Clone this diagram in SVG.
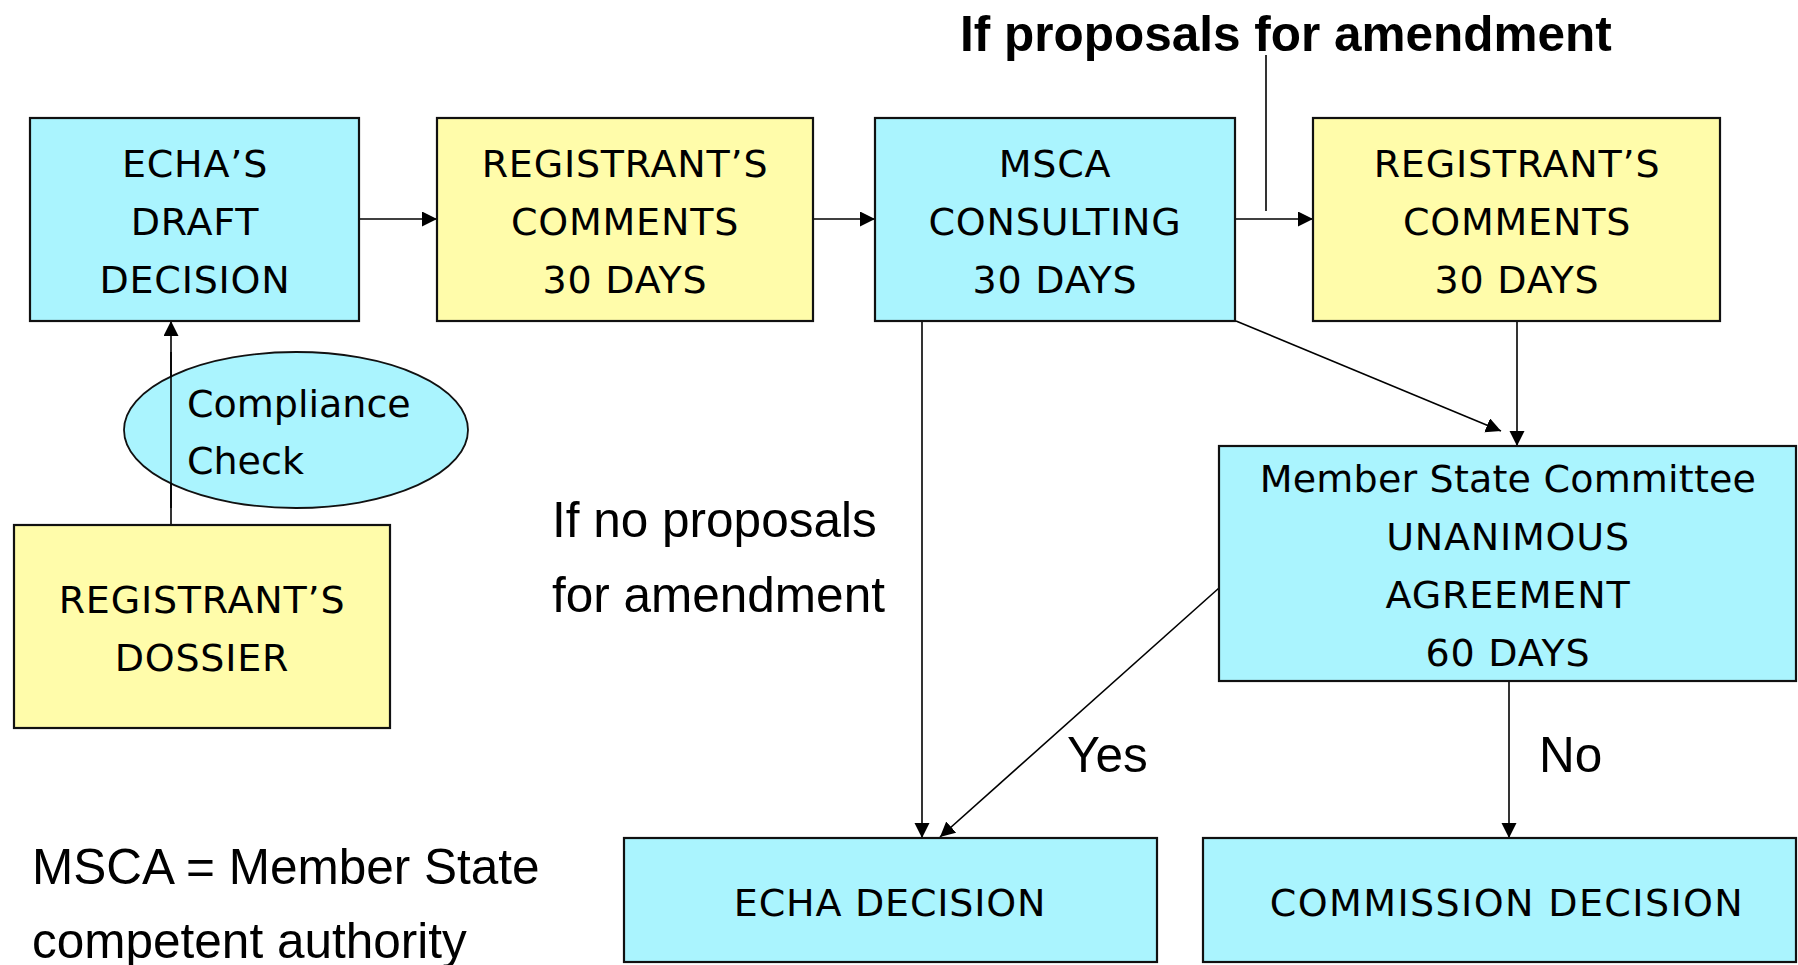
<svg xmlns="http://www.w3.org/2000/svg" width="1798" height="965" viewBox="0 0 1798 965">
<defs>
<marker id="arr" markerUnits="userSpaceOnUse" markerWidth="16" markerHeight="16" refX="15" refY="7.5" orient="auto">
<path d="M0,0 L15,7.5 L0,15 z" fill="#000"/>
</marker>
<style>
.cy{fill:#AAF4FE;stroke:#111;stroke-width:2.2}
.ye{fill:#FFFCAA;stroke:#111;stroke-width:2.2}
.bt{font-family:"DejaVu Sans",Verdana,sans-serif;font-size:38px;letter-spacing:0.8px;fill:#000;text-anchor:middle}
.lt{font-family:"DejaVu Sans",Verdana,sans-serif;font-size:38px;fill:#000}
.ar{font-family:"Liberation Sans",Arial,sans-serif;font-size:49.5px;fill:#000}
.ab{font-family:"Liberation Sans",Arial,sans-serif;font-size:49.5px;font-weight:bold;fill:#000}
.cn{stroke:#000;stroke-width:1.6;fill:none}
</style>
</defs>
<rect width="1798" height="965" fill="#fff"/>

<g id="connectors">
<line class="cn" x1="359" y1="219" x2="437" y2="219" marker-end="url(#arr)"/>
<line class="cn" x1="813" y1="219" x2="875" y2="219" marker-end="url(#arr)"/>
<line class="cn" x1="1235" y1="219" x2="1313" y2="219" marker-end="url(#arr)"/>
<line class="cn" x1="1266" y1="55" x2="1266" y2="211"/>
<line class="cn" x1="171" y1="525" x2="171" y2="321" marker-end="url(#arr)"/>
<line class="cn" x1="922" y1="321" x2="922" y2="838" marker-end="url(#arr)"/>
<line class="cn" x1="1236" y1="321" x2="1501" y2="431" marker-end="url(#arr)"/>
<line class="cn" x1="1517" y1="321" x2="1517" y2="446" marker-end="url(#arr)"/>
<line class="cn" x1="1219" y1="588" x2="940" y2="837" marker-end="url(#arr)"/>
<line class="cn" x1="1509" y1="681" x2="1509" y2="838" marker-end="url(#arr)"/>
</g>

<g id="echa-draft">
<rect class="cy" x="30" y="118" width="329" height="203"/>
<text class="bt" x="195" y="177">ECHA’S</text>
<text class="bt" x="195" y="235">DRAFT</text>
<text class="bt" x="195" y="293">DECISION</text>
</g>

<g id="reg-comments-1">
<rect class="ye" x="437" y="118" width="376" height="203"/>
<text class="bt" x="625" y="177">REGISTRANT’S</text>
<text class="bt" x="625" y="235">COMMENTS</text>
<text class="bt" x="625" y="293">30 DAYS</text>
</g>

<g id="msca-consulting">
<rect class="cy" x="875" y="118" width="360" height="203"/>
<text class="bt" x="1055" y="177">MSCA</text>
<text class="bt" x="1055" y="235">CONSULTING</text>
<text class="bt" x="1055" y="293">30 DAYS</text>
</g>

<g id="reg-comments-2">
<rect class="ye" x="1313" y="118" width="407" height="203"/>
<text class="bt" x="1517" y="177">REGISTRANT’S</text>
<text class="bt" x="1517" y="235">COMMENTS</text>
<text class="bt" x="1517" y="293">30 DAYS</text>
</g>

<g id="compliance-check">
<ellipse class="cy" cx="296" cy="430" rx="172" ry="78" style="stroke-width:1.8"/>
<line class="cn" x1="171" y1="352" x2="171" y2="508"/>
<text class="lt" x="187" y="417">Compliance</text>
<text class="lt" x="187" y="474">Check</text>
</g>

<g id="reg-dossier">
<rect class="ye" x="14" y="525" width="376" height="203"/>
<text class="bt" x="202" y="613">REGISTRANT’S</text>
<text class="bt" x="202" y="671">DOSSIER</text>
</g>

<g id="msc">
<rect class="cy" x="1219" y="446" width="577" height="235"/>
<text class="bt" x="1508" y="492" style="letter-spacing:0.2px">Member State Committee</text>
<text class="bt" x="1508" y="550">UNANIMOUS</text>
<text class="bt" x="1508" y="608">AGREEMENT</text>
<text class="bt" x="1508" y="666">60 DAYS</text>
</g>

<g id="echa-decision">
<rect class="cy" x="624" y="838" width="533" height="124"/>
<text class="bt" x="890" y="916">ECHA DECISION</text>
</g>

<g id="commission-decision">
<rect class="cy" x="1203" y="838" width="593" height="124"/>
<text class="bt" x="1507" y="916" style="letter-spacing:1.4px">COMMISSION DECISION</text>
</g>

<g id="labels">
<text class="ab" x="960" y="51">If proposals for amendment</text>
<text class="ar" x="552" y="537">If no proposals</text>
<text class="ar" x="552" y="612">for amendment</text>
<text class="ar" x="1067" y="772">Yes</text>
<text class="ar" x="1539" y="772">No</text>
<text class="ar" x="32" y="884">MSCA = Member State</text>
<text class="ar" x="32" y="958">competent authority</text>
</g>
</svg>
